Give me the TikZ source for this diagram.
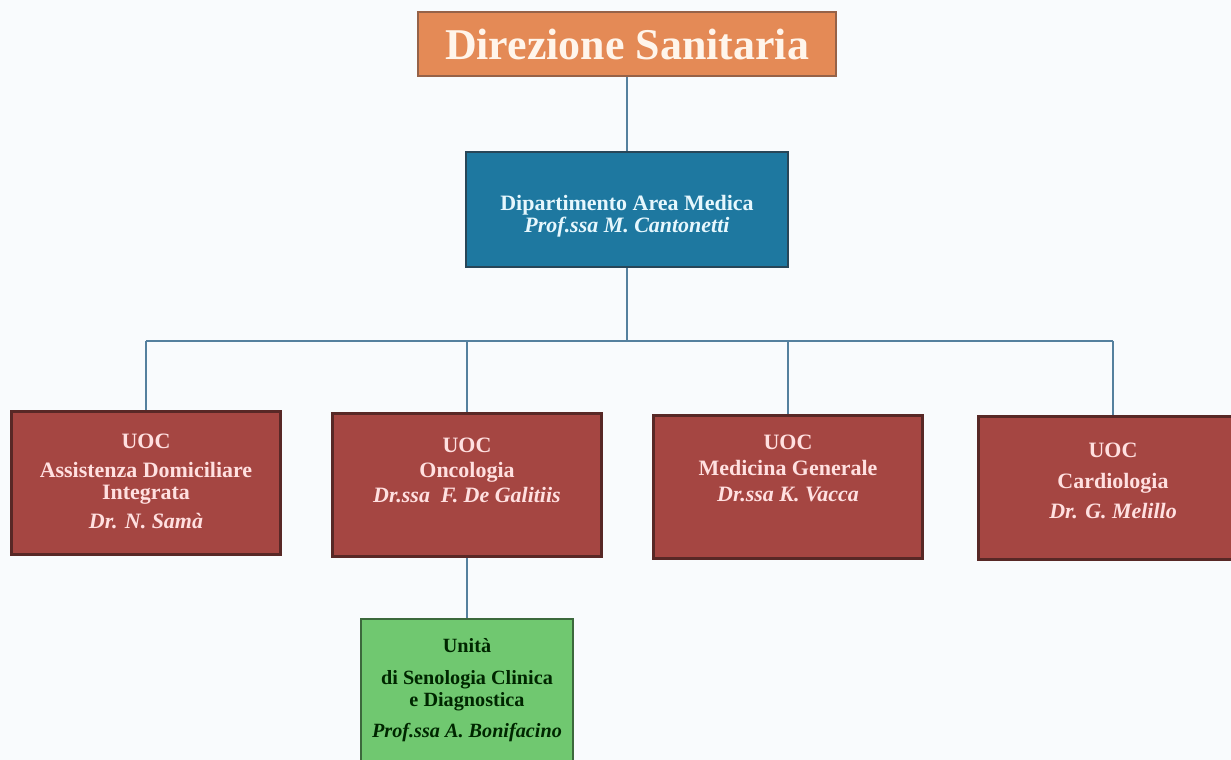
\documentclass[tikz,border=0pt]{standalone}
\usepackage{fontspec}
\setmainfont{Liberation Serif}
\usepackage{xcolor}
\usepackage{tikz}
\definecolor{dirfill}{RGB}{228,138,86}
\definecolor{dirline}{RGB}{150,98,72}
\definecolor{dipfill}{RGB}{30,120,160}
\definecolor{dipline}{RGB}{40,70,88}
\definecolor{uocfill}{RGB}{165,70,66}
\definecolor{uocline}{RGB}{88,40,38}
\definecolor{senfill}{RGB}{112,200,112}
\definecolor{senline}{RGB}{60,105,60}
\definecolor{wire}{RGB}{85,128,158}
\definecolor{paper}{RGB}{249,251,253}

\begin{document}
\begin{tikzpicture}[x=0.02cm,y=-0.02cm,font=\bfseries]
        \tikzstyle{box}=[draw,line width=1.3pt,inner sep=0]
        \tikzstyle{dir box}=[box,fill=dirfill,draw=dirline,minimum width=8.36cm,minimum height=1.28cm,text=white!92!orange,font=\fontsize{25}{28}\selectfont\bfseries]
        \tikzstyle{dip box}=[box,fill=dipfill,draw=dipline,minimum width=6.44cm,minimum height=2.3cm]
        \tikzstyle{uoc box}=[box,fill=uocfill,draw=uocline,minimum width=5.38cm,minimum height=2.86cm]
        \tikzstyle{sen box}=[box,fill=senfill,draw=senline,minimum width=4.24cm,minimum height=3cm]
        \tikzstyle{dip text}=[align=center,text=white!90!cyan,font=\fontsize{12.5}{12.5}\selectfont\bfseries]
        \tikzstyle{uoc text}=[align=center,text=white!88!red,font=\fontsize{12.5}{12.5}\selectfont\bfseries]
        \tikzstyle{sen text}=[align=center,text=black!85!green,font=\fontsize{11.5}{12.5}\selectfont\bfseries]
        \tikzstyle{wire}=[draw=wire,line width=1.1pt]
        % canvas
        \fill[paper] (0,0) rectangle (1231,760);
        \useasboundingbox (0,0) rectangle (1231,760);
        % boxes
        \node[dir box] (dir) at (627,44) {Direzione Sanitaria};
        \node[dip box,label={[dip text,yshift=-0.14cm]center:{Dipartimento Area Medica\\\textit{Prof.ssa M. Cantonetti}}}] (dip) at (627,209.5) {};
        \node[uoc box,label={[uoc text,yshift=0.04cm]center:{UOC\\[4pt]Assistenza Domiciliare\\Integrata\\[4pt]\textit{Dr. N. Samà}}}] (adi) at (146,483) {};
        \node[uoc box,label={[uoc text,yshift=0.3cm]center:{UOC\\[1.7pt]Oncologia\\[1.7pt]\textit{Dr.ssa\ \ F. De Galitiis}}}] (onc) at (467,485) {};
        \node[uoc box,label={[uoc text,yshift=0.38cm]center:{UOC\\[2.3pt]Medicina Generale\\[2.3pt]\textit{Dr.ssa K. Vacca}}}] (med) at (788,487) {};
        \node[uoc box,label={[uoc text,yshift=0.14cm]center:{UOC\\[5pt]Cardiologia\\[5pt]\textit{Dr. G. Melillo}}}] (car) at (1113,488) {};
        \node[sen box,label={[sen text,yshift=0.08cm]center:{Unità\\[5.5pt]di Senologia Clinica\\e Diagnostica\\[5pt]\textit{Prof.ssa A. Bonifacino}}}] (sen) at (467,694) {};
        % connectors
        \coordinate (bus) at (627,341);
        \draw[wire] (dir) -- (dip);
        \draw[wire] (dip) -- (bus);
        \draw[wire] (bus -| adi) -- (bus -| car);
        \foreach \u in {adi,onc,med,car}
            \draw[wire] (bus -| \u) -- (\u);
        \draw[wire] (onc) -- (sen);
\end{tikzpicture}
\end{document}
